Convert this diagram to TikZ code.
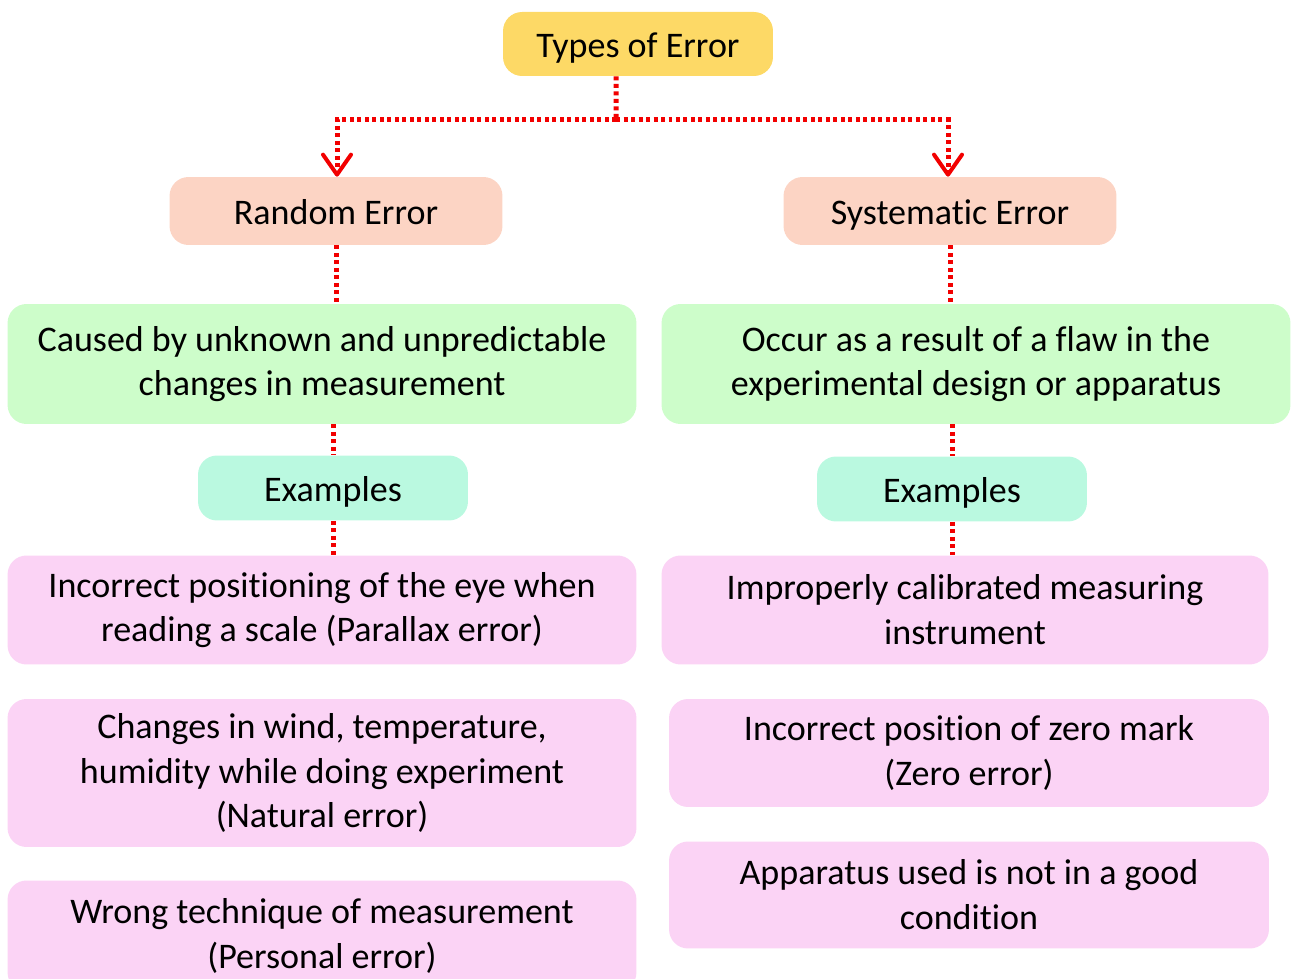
\documentclass[tikz,border=0pt]{standalone}
\usepackage{fontspec}
\setmainfont{Carlito}[Ligatures={NoCommon,NoRequired,NoContextual},Contextuals=NoAlternate]
\usepackage{xcolor}
\usetikzlibrary{arrows.meta,calc,positioning,shapes}
\definecolor{typefill}{HTML}{FDD966}
\definecolor{errfill}{HTML}{FCD4C4}
\definecolor{causefill}{HTML}{CDFDCA}
\definecolor{exfill}{HTML}{BAF9E0}
\definecolor{casefill}{HTML}{FBD3F5}
\definecolor{linkred}{HTML}{F20000}
\newcommand{\nolig}{\kern0pt }  % keeps t and i apart
\tikzset{%
	basebox/.style  = {rectangle, rounded corners=0.38cm, align=center, inner sep=0pt, font=\fontsize{20.5}{25.5}\selectfont},
	onebox/.style   = {basebox, text height=19.5pt, text depth=4.1pt},
	typebox/.style  = {onebox, fill=typefill, minimum width=5.4cm, minimum height=1.28cm},
	errbox/.style   = {onebox, fill=errfill, minimum width=6.66cm, minimum height=1.36cm},
	causebox/.style = {basebox, fill=causefill, minimum width=12.58cm, minimum height=2.4cm},
	exbox/.style    = {onebox, fill=exfill, minimum width=5.4cm, minimum height=1.3cm},
	casebox/.style  = {basebox, fill=casefill},
	link/.style     = {linkred, line width=0.1cm, dash pattern=on 0.08cm off 0.07cm},
	arrow/.style    = {link, -{Straight Barb[length=0.4cm,width=0.56cm,line width=0.08cm,round]}},
}
\begin{document}
\begin{tikzpicture}[x=0.02cm,y=-0.02cm]
		\clip (0,0) rectangle (1295,979);  % frame
		\node[typebox] (types) at (638,44) {Types of Error};
		\node[errbox] (random) at (336,211) {Random Error};
		\node[errbox] (system) at (950,211) {Systemat\nolig ic Error};
		\node[causebox] (cause1) at (322,364) {Caused by unknown and unpredictable\\changes in measurement};
		\node[causebox] (cause2) at (976,364) {Occur as a result of a f\nolig law in the\\experimental design or apparatus};
		\node[exbox] (ex1) at (333,488) {Examples};
		\node[exbox] (ex2) at (952,489) {Examples};
		% random error examples
		\node[casebox, minimum width=12.58cm, minimum height=2.18cm] (rcase1) at (322,610) {Incorrect posit\nolig ioning of the eye when\\reading a scale (Parallax error)};
		\node[casebox, minimum width=12.58cm, minimum height=2.96cm] (rcase2) at (322,773) {Changes in wind, temperature,\\humidity while doing experiment\\(Natural error)};
		\node[casebox, minimum width=12.58cm, minimum height=2.22cm] (rcase3) at (322,936) {Wrong technique of measurement\\(Personal error)};
		% systematic error examples
		\node[casebox, minimum width=12.14cm, minimum height=2.18cm] (scase1) at (965,610) {Improperly calibrated measuring\\instrument};
		\node[casebox, minimum width=12cm, minimum height=2.16cm] (scase2) at (969,753) {Incorrect posit\nolig ion of zero mark\\(Zero error)};
		\node[casebox, minimum width=12cm, minimum height=2.14cm] (scase3) at (969,895) {Apparatus used is not in a good\\condit\nolig ion};
		% connectors
		\coordinate (fork) at (616,120);
		\draw[link] ([xshift=-0.44cm]types.south) -- (fork);
		\draw[arrow] (fork) -| ([xshift=0.02cm]random.north);
		\draw[arrow] (fork) -| ([xshift=-0.04cm]system.north);
		\draw[link] (random.south) -- (random.south |- cause1.north);
		\draw[link] (system.south) -- (system.south |- cause2.north);
		\draw[link] (ex1.north |- cause1.south) -- (ex1.north);
		\draw[link] (ex2.north |- cause2.south) -- (ex2.north);
		\draw[link] (ex1.south) -- (ex1.south |- rcase1.north);
		\draw[link] (ex2.south) -- (ex2.south |- scase1.north);
		\end{tikzpicture}
\end{document}
